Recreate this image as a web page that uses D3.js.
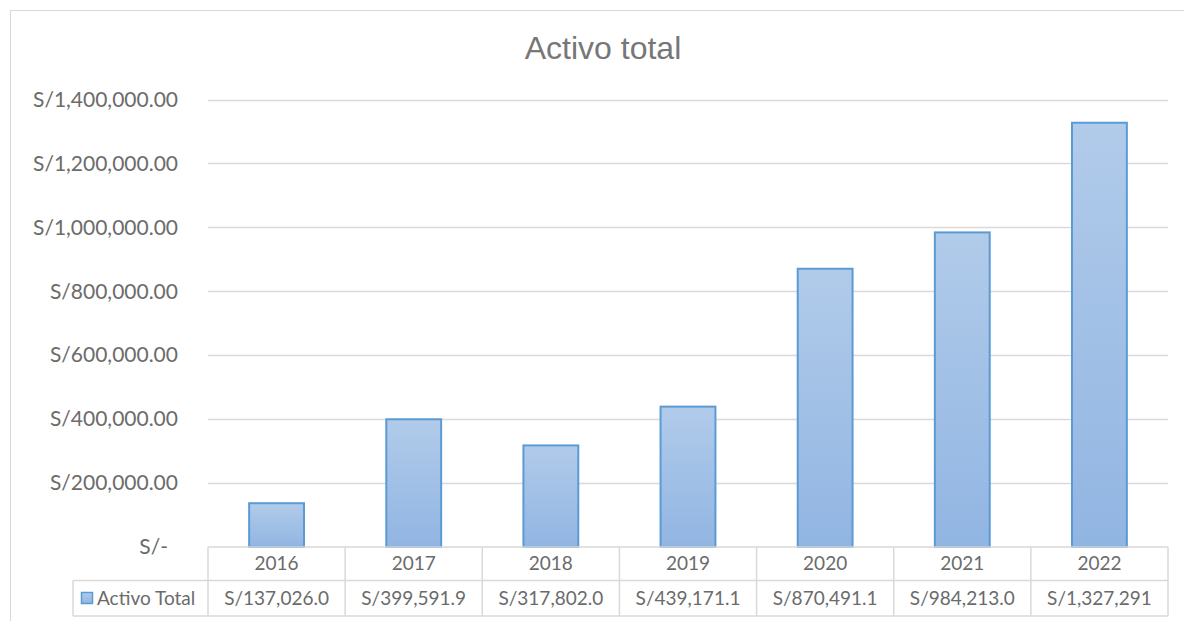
<!DOCTYPE html>
<html>
<head>
<meta charset="utf-8">
<script src="https://cdn.jsdelivr.net/npm/d3@7"></script>
<style>
  body { margin: 0; background: #fff; }
  svg text { font-family: Lato, "Open Sans", sans-serif; fill: #6b6b6b; }
</style>
</head>
<body>
<svg id="chart" width="1184" height="621"></svg>
<script>
// Activo total - bar chart with data table (Excel style)

const years = ["2016", "2017", "2018", "2019", "2020", "2021", "2022"];
const values = [137026.0, 399591.9, 317802.0, 439171.1, 870491.1, 984213.0, 1327291];
const tableLabels = ["S/137,026.0", "S/399,591.9", "S/317,802.0", "S/439,171.1", "S/870,491.1", "S/984,213.0", "S/1,327,291"];
const yTicks = [0, 200000, 400000, 600000, 800000, 1000000, 1200000, 1400000];
const seriesName = "Activo Total";

const svg = d3.select("#chart");
const plot = { left: 208, right: 1168, top: 99.5, bottom: 547 };
const rowH = [547, 580.5, 616];

// gradient for bars
const defs = svg.append("defs");
const grad = defs.append("linearGradient")
    .attr("id", "barGrad")
    .attr("x1", 0).attr("y1", 0).attr("x2", 0).attr("y2", 1);
grad.append("stop").attr("offset", "0%").attr("stop-color", "#b1cbea");
grad.append("stop").attr("offset", "100%").attr("stop-color", "#91b5e2");

// outer chart border
svg.append("rect")
    .attr("x", 10.5).attr("y", 10.5)
    .attr("width", 1190).attr("height", 640)
    .attr("fill", "none")
    .attr("stroke", "#d9d9d9");

svg.append("text")
    .attr("x", 603).attr("y", 59)
    .attr("text-anchor", "middle")
    .style("font-family", "'Liberation Sans', Arial, sans-serif")
    .style("font-size", "32px")
    .style("fill", "#777")
    .text("Activo total");

const x = d3.scaleBand()
    .domain(years)
    .range([plot.left, plot.right])
    .paddingInner(0.6)
    .paddingOuter(0.3);

const band = d3.scaleBand().domain(years).range([plot.left, plot.right]);

const y = d3.scaleLinear()
    .domain([0, 1400000])
    .range([plot.bottom, plot.top]);

const fmtTick = d => d === 0 ? "S/-" : "S/" + d3.format(",.2f")(d);

// gridlines
svg.append("g")
    .selectAll("line")
    .data(yTicks.filter(d => d > 0))
    .join("line")
    .attr("x1", plot.left).attr("x2", plot.right)
    .attr("y1", d => Math.round(y(d)) + 0.5)
    .attr("y2", d => Math.round(y(d)) + 0.5)
    .attr("stroke", "#d9d9d9")
    .attr("stroke-width", 1.5);

// y axis labels
const yAxis = svg.append("g")
    .attr("transform", `translate(${plot.left},0)`)
    .call(d3.axisLeft(y).tickValues(yTicks).tickFormat(fmtTick).tickSize(0).tickPadding(30));
yAxis.select(".domain").remove();
yAxis.selectAll("text")
    .style("font-size", "21px")
    .style("fill", "#6b6b6b")
    .attr("dx", d => d === 0 ? -10 : 0);

// bars
svg.append("g")
    .selectAll("rect")
    .data(values)
    .join("rect")
    .attr("x", (d, i) => x(years[i]))
    .attr("y", d => y(d))
    .attr("width", x.bandwidth())
    .attr("height", d => y(0) - y(d))
    .attr("fill", "url(#barGrad)")
    .attr("stroke", "#5b9bd5")
    .attr("stroke-width", 2);

// data table
const table = svg.append("g");
const lineColor = "#d9d9d9";

// horizontal lines
table.append("line")
    .attr("x1", plot.left).attr("x2", plot.right)
    .attr("y1", rowH[0]).attr("y2", rowH[0])
    .attr("stroke", lineColor).attr("stroke-width", 1.5);
table.append("line")
    .attr("x1", 73).attr("x2", plot.right)
    .attr("y1", rowH[1]).attr("y2", rowH[1])
    .attr("stroke", lineColor).attr("stroke-width", 1.5);
table.append("line")
    .attr("x1", 73).attr("x2", plot.right)
    .attr("y1", rowH[2]).attr("y2", rowH[2])
    .attr("stroke", lineColor).attr("stroke-width", 1.5);

// vertical lines
const edges = years.map(d => band(d)).concat([plot.right]);
table.selectAll(".vline")
    .data(edges)
    .join("line")
    .attr("class", "vline")
    .attr("x1", d => d).attr("x2", d => d)
    .attr("y1", rowH[0]).attr("y2", rowH[2])
    .attr("stroke", lineColor).attr("stroke-width", 1.5);
table.append("line")
    .attr("x1", 73).attr("x2", 73)
    .attr("y1", rowH[1]).attr("y2", rowH[2])
    .attr("stroke", lineColor).attr("stroke-width", 1.5);

// header row (years)
table.selectAll(".yr")
    .data(years)
    .join("text")
    .attr("class", "yr")
    .attr("x", d => band(d) + band.bandwidth() / 2)
    .attr("y", (rowH[0] + rowH[1]) / 2)
    .attr("dy", "0.35em")
    .attr("text-anchor", "middle")
    .style("font-size", "19px")
    .text(d => d);

// value row
table.selectAll(".val")
    .data(tableLabels)
    .join("text")
    .attr("class", "val")
    .attr("x", (d, i) => band(years[i]) + band.bandwidth() / 2)
    .attr("y", (rowH[1] + rowH[2]) / 2)
    .attr("dy", "0.35em")
    .attr("text-anchor", "middle")
    .style("font-size", "19px")
    .text(d => d);

// legend key in the table
table.append("rect")
    .attr("x", 81.5).attr("y", 592.5)
    .attr("width", 11).attr("height", 11)
    .attr("fill", "url(#barGrad)")
    .attr("stroke", "#5b9bd5")
    .attr("stroke-width", 1.5);
table.append("text")
    .attr("x", 97)
    .attr("y", (rowH[1] + rowH[2]) / 2)
    .attr("dy", "0.35em")
    .style("font-size", "19px")
    .text(seriesName);
</script>
</body>
</html>
